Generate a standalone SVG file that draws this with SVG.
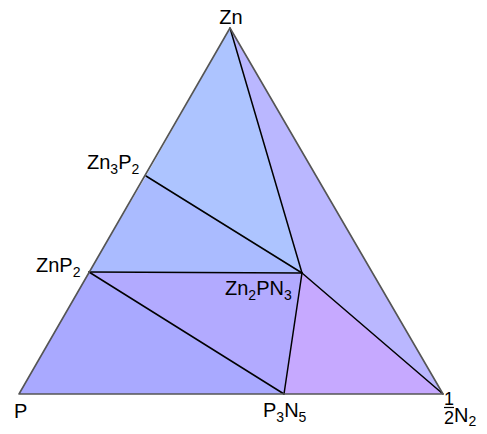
<svg xmlns="http://www.w3.org/2000/svg" width="487" height="434" viewBox="0 0 487 434">
<style>
text{font-family:"Liberation Sans",Arial,sans-serif;font-size:20px;fill:#000}
.sub{font-size:14px}
.ln{stroke:#000;stroke-width:1.5;fill:none;stroke-linecap:round}
.edge{stroke:#555;stroke-width:1.6;fill:none;stroke-linejoin:round}
.reg{stroke:none}
</style>
<rect width="487" height="434" fill="#fff"/>
<g id="regions">
<polygon class="reg" fill="#adc4ff" points="230,28 146,176 302,273"/>
<polygon class="reg" fill="#bab7ff" points="230,28 302,273 443,394"/>
<polygon class="reg" fill="#aabbff" points="146,176 89,272 302,273"/>
<polygon class="reg" fill="#b2aaff" points="89,272 284,394 302,273"/>
<polygon class="reg" fill="#a9a9ff" points="19,394 89,272 284,394"/>
<polygon class="reg" fill="#c6a9ff" points="302,273 284,394 443,394"/>
</g>
<g id="connectors">
<line class="ln" x1="230" y1="28" x2="302" y2="273"/>
<line class="ln" x1="146" y1="176" x2="302" y2="273"/>
<line class="ln" x1="89" y1="272" x2="302" y2="273"/>
<line class="ln" x1="89" y1="272" x2="284" y2="394"/>
<line class="ln" x1="302" y1="273" x2="284" y2="394"/>
<line class="ln" x1="302" y1="273" x2="443" y2="394"/>
<polygon class="edge" points="230,28 19,394 443,394"/>
</g>
<g id="Zn"><text x="231" y="24" text-anchor="middle">Zn</text></g>
<g id="Zn3P2"><text x="87" y="169">Zn<tspan class="sub" dy="5">3</tspan><tspan dy="-5">P</tspan><tspan class="sub" dy="5">2</tspan></text></g>
<g id="ZnP2"><text x="36" y="272">ZnP<tspan class="sub" dy="5">2</tspan></text></g>
<g id="Zn2PN3"><text x="225" y="295">Zn<tspan class="sub" dy="5">2</tspan><tspan dy="-5">PN</tspan><tspan class="sub" dy="5">3</tspan></text></g>
<g id="P"><text x="14" y="418">P</text></g>
<g id="P3N5"><text x="263" y="417">P<tspan class="sub" dy="5">3</tspan><tspan dy="-5">N</tspan><tspan class="sub" dy="5">5</tspan></text></g>
<g id="N2">
<text x="449" y="405" text-anchor="middle" style="font-size:18px">1</text>
<line x1="444" y1="407.5" x2="454" y2="407.5" stroke="#000" stroke-width="1.2"/>
<text x="449" y="424" text-anchor="middle" style="font-size:18px">2</text>
<text x="454" y="422">N<tspan class="sub" dy="4">2</tspan></text>
</g>
</svg>
